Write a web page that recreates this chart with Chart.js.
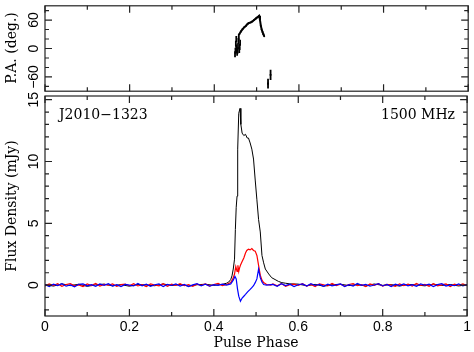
<!DOCTYPE html>
<html lang="en">
<head>
<meta charset="UTF-8">
<title>J2010-1323 polarisation profile</title>
<script src="https://cdn.jsdelivr.net/npm/chart.js"></script>
<style>
    body { margin: 0; background: #fff; }
    .wrap { position: relative; width: 474px; height: 352px; }
    .wrap canvas { position: absolute; left: 0; top: 0; }
</style>
</head>
<body>
<div class="wrap">
    <canvas id="profileChart" width="474" height="352" style="width:474px;height:352px"></canvas>
    <canvas id="paChart" width="474" height="97" style="width:474px;height:97px"></canvas>
</div>
<script>
// off-pulse phases (baseline)
const offLeftPhase = [0, 0.02, 0.04, 0.06, 0.08, 0.10, 0.12, 0.14, 0.16, 0.18, 0.20, 0.22, 0.24, 0.26, 0.28, 0.30, 0.32, 0.34, 0.36, 0.38, 0.40, 0.42];
const offRightPhase = [0.60, 0.62, 0.64, 0.66, 0.68, 0.70, 0.72, 0.74, 0.76, 0.78, 0.80, 0.82, 0.84, 0.86, 0.88, 0.90, 0.92, 0.94, 0.96, 0.98, 1.00];
const fineLeftPhase = [0, 0.01, 0.02, 0.03, 0.04, 0.05, 0.06, 0.07, 0.08, 0.09, 0.10, 0.11, 0.12, 0.13, 0.14, 0.15, 0.16, 0.17, 0.18, 0.19, 0.20, 0.21,
    0.22, 0.23, 0.24, 0.25, 0.26, 0.27, 0.28, 0.29, 0.30, 0.31, 0.32, 0.33, 0.34, 0.35, 0.36, 0.37, 0.38, 0.39, 0.40, 0.41, 0.42];
const fineRightPhase = [0.54, 0.55, 0.56, 0.57, 0.58, 0.59, 0.60, 0.61, 0.62, 0.63, 0.64, 0.65, 0.66, 0.67, 0.68, 0.69, 0.70, 0.71, 0.72, 0.73, 0.74, 0.75, 0.76, 0.77,
    0.78, 0.79, 0.80, 0.81, 0.82, 0.83, 0.84, 0.85, 0.86, 0.87, 0.88, 0.89, 0.90, 0.91, 0.92, 0.93, 0.94, 0.95, 0.96, 0.97, 0.98, 0.99, 1.00];

// total intensity (black)
const iOffLeft = [0.05, -0.08, 0.10, -0.04, 0.07, -0.10, 0.02, 0.08, -0.06, 0.04, -0.09, 0.06, 0.00, -0.05, 0.09, -0.03, 0.05, -0.08, 0.03, 0.07, -0.02, 0.06];
const iOffRight = [0.08, -0.05, 0.06, -0.09, 0.03, 0.07, -0.04, 0.05, -0.07, 0.09, -0.02, 0.04, -0.08, 0.06, 0.01, -0.06, 0.08, -0.03, 0.05, -0.07, 0.03];
const iPhase = [0.430, 0.435, 0.440, 0.443, 0.446, 0.449, 0.451, 0.453, 0.455, 0.456, 0.457, 0.459, 0.462, 0.464, 0.467, 0.471, 0.475, 0.479, 0.482, 0.486, 0.490, 0.494, 0.498, 0.502, 0.506, 0.510, 0.514, 0.518, 0.522, 0.530, 0.537, 0.545, 0.553, 0.561, 0.570, 0.580];
const iFlux = [0.15, 0.24, 0.45, 0.75, 1.3, 2.1, 4.5, 6.3, 7.2, 9.6, 11.0, 13.9, 14.3, 13.0, 12.3, 12.1, 12.2, 11.9, 11.9, 11.5, 11.0, 10.2, 8.5, 6.9, 5.3, 4.3, 2.4, 1.8, 1.3, 0.9, 0.6, 0.45, 0.3, 0.2, 0.15, 0.1];

// linear polarisation (red)
const lOffLeft = [-0.07, 0.10, -0.03, 0.12, -0.09, 0.05, 0.11, -0.06, 0.02, -0.12, 0.09, -0.04, 0.13, -0.08, 0.06, -0.01, 0.10, -0.10, 0.04, 0.08, -0.05, 0.12,
    -0.07, 0.03, -0.11, 0.09, 0.01, -0.06, 0.11, -0.09, 0.07, -0.03, 0.12, -0.05, 0.04, -0.10, 0.08, -0.02, 0.10, -0.08, 0.05, 0.13, -0.04];
const lOffRight = [0.09, -0.06, 0.12, -0.10, 0.04, 0.08, -0.03, 0.11, -0.08, 0.06, -0.12, 0.10, 0.02, -0.07, 0.13, -0.04, 0.07, -0.09, 0.05, 0.11, -0.05, 0.03, -0.11, 0.09,
    -0.02, 0.12, -0.08, 0.06, 0.00, -0.10, 0.10, -0.04, 0.08, -0.07, 0.13, -0.03, 0.05, -0.09, 0.11, -0.06, 0.02, 0.09, -0.12, 0.07, -0.01, 0.10, -0.05];
const lPhase = [0.430, 0.440, 0.445, 0.449, 0.452, 0.455, 0.457, 0.459, 0.461, 0.463, 0.467, 0.471, 0.475, 0.478, 0.482, 0.486, 0.490, 0.494, 0.498, 0.502, 0.506, 0.510, 0.514, 0.518, 0.525, 0.535];
const lFlux = [0.05, 0.2, 0.5, 0.9, 1.5, 1.1, 1.6, 1.1, 1.4, 1.6, 1.9, 2.2, 2.6, 2.8, 2.9, 2.85, 2.95, 2.8, 2.75, 2.4, 1.6, 0.8, 0.4, 0.2, 0.05, 0.0];

// circular polarisation (blue)
const vOffLeft = [0.05, -0.11, 0.08, -0.04, 0.12, -0.09, 0.02, -0.13, 0.07, 0.10, -0.06, 0.03, -0.10, 0.09, -0.02, 0.11, -0.08, 0.04, -0.12, 0.06, 0.00, -0.07,
    0.13, -0.05, 0.08, -0.10, 0.03, 0.09, -0.11, 0.05, -0.03, 0.10, -0.08, 0.06, -0.12, 0.02, 0.11, -0.06, 0.07, -0.09, 0.04, -0.02, 0.08];
const vOffRight = [0.06, -0.09, 0.11, -0.04, 0.07, -0.12, 0.03, 0.09, -0.07, 0.12, -0.03, 0.05, -0.10, 0.08, -0.06, 0.02, 0.10, -0.11, 0.04, -0.08, 0.13, -0.02, 0.06, -0.09,
    0.01, 0.11, -0.07, 0.05, -0.12, 0.08, -0.04, 0.10, -0.06, 0.03, -0.10, 0.09, -0.01, 0.07, -0.11, 0.04, 0.12, -0.08, 0.02, -0.05, 0.09, -0.07, 0.05];
const vPhase = [0.430, 0.440, 0.446, 0.450, 0.453, 0.456, 0.459, 0.463, 0.467, 0.471, 0.475, 0.480, 0.486, 0.490, 0.494, 0.498, 0.502, 0.506, 0.510, 0.514, 0.518, 0.525];
const vFlux = [0.0, 0.1, 0.4, 0.7, 0.5, -0.3, -0.9, -1.3, -1.05, -0.9, -0.75, -0.55, -0.35, -0.2, -0.05, 0.2, 0.5, 1.3, 0.6, 0.25, 0.05, 0.0];

// position angle
const paPhase = [0.459, 0.463, 0.467, 0.471, 0.475, 0.479, 0.482, 0.486, 0.490, 0.494, 0.498, 0.502, 0.506, 0.508, 0.510, 0.512, 0.514, 0.516, 0.518];
const paDeg = [30, 36, 41, 45, 48, 52, 54, 55, 57, 60, 63, 66, 69, 60, 48, 40, 35, 30, 26];
const paScatPhase = [0.449, 0.450, 0.451, 0.452, 0.452, 0.453, 0.454, 0.455, 0.456, 0.457, 0.458, 0.459, 0.460, 0.461, 0.527, 0.527, 0.533, 0.533];
const paScatDeg = [-12, -5, 10, 2, 20, -3, -9, -5, 5, 16, 24, -3, 3, 12, -70, -78, -51, -60];

const toXY = (xs, ys) => xs.map((x, i) => ({ x: x, y: ys[i] }));

const serif = '14px "DejaVu Serif", serif';
const sans = '14px "Liberation Sans", Arial, sans-serif';

// PGPLOT style frame with inward ticks, drawn from the chart scales
const frameTicks = {
    id: 'frameTicks',
    afterDraw(chart, args, o) {
        const { ctx, chartArea: a, scales } = chart;
        const xs = scales.x, ys = scales.y;
        ctx.save();
        ctx.strokeStyle = '#222';
        ctx.lineWidth = 1.2;
        ctx.strokeRect(a.left, a.top, a.right - a.left, a.bottom - a.top);
        ctx.beginPath();
        for (let k = 0; k <= 10; k++) {
            const px = xs.getPixelForValue(k / 10);
            const len = k % 2 === 0 ? 7 : 4;
            ctx.moveTo(px, a.bottom); ctx.lineTo(px, a.bottom - len);
            ctx.moveTo(px, a.top); ctx.lineTo(px, a.top + len);
        }
        for (let v = o.yFrom; v <= o.yTo; v += o.yMinor) {
            const py = ys.getPixelForValue(v);
            const len = o.yMajor.includes(v) ? 7 : 4;
            ctx.moveTo(a.left, py); ctx.lineTo(a.left + len, py);
            ctx.moveTo(a.right, py); ctx.lineTo(a.right - len, py);
        }
        ctx.stroke();

        ctx.fillStyle = '#000';
        ctx.textAlign = 'center';
        ctx.textBaseline = 'middle';
        ctx.font = sans;
        o.yMajor.forEach((v, i) => {
            ctx.save();
            ctx.translate(33, ys.getPixelForValue(v));
            ctx.rotate(-Math.PI / 2);
            ctx.fillText(o.yLabels[i], 0, 1);
            ctx.restore();
        });
        ctx.font = serif;
        ctx.save();
        ctx.translate(12, o.titleY);
        ctx.rotate(-Math.PI / 2);
        ctx.fillText(o.title, 0, 0);
        ctx.restore();
        (o.notes || []).forEach(n => {
            ctx.textAlign = n.align;
            ctx.fillText(n.text, n.x, n.y);
        });
        ctx.restore();
    }
};

new Chart(document.getElementById('profileChart'), {
    type: 'line',
    data: {
        datasets: [
            { label: 'V', data: toXY(fineLeftPhase, vOffLeft).concat(toXY(vPhase, vFlux), toXY(fineRightPhase, vOffRight)), borderColor: '#0000ff', borderWidth: 1.2, order: 1 },
            { label: 'L', data: toXY(fineLeftPhase, lOffLeft).concat(toXY(lPhase, lFlux), toXY(fineRightPhase, lOffRight)), borderColor: '#ff0000', borderWidth: 1.2, order: 2 },
            { label: 'I', data: toXY(offLeftPhase, iOffLeft).concat(toXY(iPhase, iFlux), toXY(offRightPhase, iOffRight)), borderColor: '#000000', borderWidth: 1, order: 3 }
        ]
    },
    options: {
        responsive: false,
        animation: false,
        layout: { padding: { top: 96, right: 4, left: 0, bottom: 0 } },
        elements: { point: { radius: 0 }, line: { tension: 0 } },
        plugins: {
            legend: { display: false },
            tooltip: { enabled: false },
            frameTicks: {
                yFrom: -2, yTo: 15, yMinor: 1, yMajor: [0, 5, 10, 15], yLabels: ['0', '5', '10', '15'],
                title: 'Flux Density (mJy)', titleY: 206,
                notes: [
                    { text: 'J2010\u22121323', x: 59, y: 115, align: 'left' },
                    { text: '1500 MHz', x: 455, y: 115, align: 'right' }
                ]
            }
        },
        scales: {
            x: {
                type: 'linear', min: 0, max: 1,
                grid: { display: false, drawTicks: false },
                border: { display: false },
                ticks: {
                    stepSize: 0.2, padding: 3, color: '#000',
                    font: { family: '"Liberation Sans", Arial, sans-serif', size: 14 },
                    callback: v => String(Number(v.toFixed(1)))
                },
                afterFit: s => { s.height = 36; }
            },
            y: {
                min: -2.5, max: 15.3,
                grid: { display: false },
                border: { display: false },
                ticks: { display: false },
                afterFit: s => { s.width = 45; }
            }
        }
    },
    plugins: [frameTicks, {
        id: 'xTitle',
        afterDraw(chart) {
            const c = chart.ctx;
            c.save();
            c.fillStyle = '#000';
            c.font = serif;
            c.textAlign = 'center';
            c.textBaseline = 'middle';
            c.fillText('Pulse Phase', (chart.chartArea.left + chart.chartArea.right) / 2, 343);
            c.restore();
        }
    }]
});

new Chart(document.getElementById('paChart'), {
    type: 'line',
    data: {
        datasets: [
            { label: 'PA', data: toXY(paPhase, paDeg), borderColor: '#000', borderWidth: 2, pointRadius: 1, pointBackgroundColor: '#000', pointBorderWidth: 0 },
            { label: 'PA scatter', data: toXY(paScatPhase, paScatDeg), showLine: false, pointStyle: 'line', rotation: 90, pointRadius: 3, borderColor: '#000', pointBorderWidth: 1.8 }
        ]
    },
    options: {
        responsive: false,
        animation: false,
        layout: { padding: { top: 1, right: 4, left: 0, bottom: 1 } },
        plugins: {
            legend: { display: false },
            tooltip: { enabled: false },
            frameTicks: {
                yFrom: -80, yTo: 80, yMinor: 20, yMajor: [-60, 0, 60], yLabels: ['\u221260', '0', '60'],
                title: 'P.A. (deg.)', titleY: 48
            }
        },
        scales: {
            x: { type: 'linear', min: 0, max: 1, display: false },
            y: {
                min: -90, max: 90,
                grid: { display: false },
                border: { display: false },
                ticks: { display: false },
                afterFit: s => { s.width = 45; }
            }
        }
    },
    plugins: [frameTicks]
});
</script>
</body>
</html>
